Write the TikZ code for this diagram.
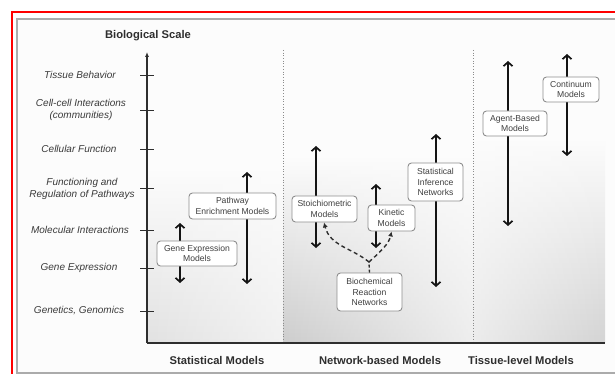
\documentclass[tikz,border=0pt]{standalone}
\usepackage{fontspec}
\setmainfont{Liberation Sans}
\usetikzlibrary{arrows.meta,fadings}
\definecolor{axisgray}{HTML}{2E2E2E}
\definecolor{labgray}{HTML}{3A3A3A}
\definecolor{boxgray}{HTML}{8E8E8E}
\definecolor{txtgray}{HTML}{404040}
\definecolor{framegray}{HTML}{ABABAB}
\definecolor{arrowblack}{HTML}{141414}
\definecolor{innerbg}{HTML}{FCFCFC}
\definecolor{shA}{HTML}{E2E2E2}
\definecolor{shB}{HTML}{CDCDCD}
\definecolor{shC}{HTML}{D4D4D4}
\pgfdeclareverticalshading{vshA}{100bp}{color(0bp)=(shA); color(25bp)=(shA); color(55bp)=(innerbg); color(100bp)=(innerbg)}
\pgfdeclareverticalshading{vshB}{100bp}{color(0bp)=(shB); color(25bp)=(shB); color(57bp)=(innerbg); color(100bp)=(innerbg)}
\pgfdeclareverticalshading{vshC}{100bp}{color(0bp)=(shC); color(25bp)=(shC); color(60bp)=(innerbg); color(100bp)=(innerbg)}
\begin{document}
\begin{tikzpicture}[x=1pt,y=-1pt,
  lab/.style={font=\fontsize{10}{11.5}\selectfont\itshape, text=labgray, align=center},
  ttl/.style={font=\fontsize{11.2}{13}\selectfont\bfseries, text=axisgray},
  mbox/.style={draw=boxgray, fill=white, rounded corners=3.5pt, line width=0.9pt,
     font=\fontsize{8.6}{10.5}\selectfont, text=txtgray, align=center, inner sep=0pt},
  dbl/.style={line width=1.7pt, draw=arrowblack,
     {Straight Barb[length=4pt,width=9pt,line width=1.7pt]}-{Straight Barb[length=4pt,width=9pt,line width=1.7pt]}},
  dsh/.style={line width=1.4pt, draw=axisgray, dash pattern=on 4pt off 3pt,
     -{Latex[length=5pt,width=5pt]}},
  tick/.style={line width=0.9pt, draw=axisgray}]
\useasboundingbox (0,0) rectangle (615,374);
% background and frames
\fill[white] (0,0) rectangle (615,374);
\fill[innerbg] (17,19) rectangle (615,373);
\draw[framegray, line width=1.5pt] (615,19) -- (17,19) -- (17,373) -- (615,373);
\draw[red, line width=2.4pt] (12,374) -- (12,12) -- (615,12);
% panels
\shade[shading=vshA] (148,50) rectangle (283,342);
\fill[innerbg, path fading=west, fill opacity=0.6] (148,50) rectangle (283,342);
\shade[shading=vshB] (283,50) rectangle (473,342);
\fill[innerbg, path fading=west, fill opacity=0.7] (283,50) rectangle (473,342);
\shade[shading=vshC] (473,50) rectangle (605,342);
\fill[innerbg, path fading=east, fill opacity=0.6] (473,50) rectangle (605,342);
\draw[dotted, black!45, line width=0.7pt] (283,50) -- (283,342);
\draw[dotted, black!45, line width=0.7pt] (473,50) -- (473,342);
% axes
\coordinate (org) at (147,343);
\coordinate (ytop) at (147,52);
\coordinate (xend) at (605,343);
\draw[axisgray, line width=1.3pt, -{Latex[length=5pt,width=4pt]}] (org) -- (ytop);
\draw[axisgray, line width=1.3pt] (org) -- (xend);
\node[ttl] (title) at (148,36) {Biological Scale};
% ticks and labels
\foreach \y/\n in {75/t1,110/t2,149/t3,188/t4,230/t5,268/t6,311/t7}{
  \coordinate (\n a) at (140,\y);
  \coordinate (\n b) at (154,\y);
  \draw[tick] (\n a) -- (\n b);
}
\node[lab] (l1) at (80,75) {Tissue Behavior};
\node[lab] (l2) at (81,110) {Cell-cell Interactions\\(communities)};
\node[lab] (l3) at (79,149) {Cellular Function};
\node[lab] (l4) at (82,189) {Functioning and\\Regulation of Pathways};
\node[lab] (l5) at (80,230) {Molecular Interactions};
\node[lab] (l6) at (79,268) {Gene Expression};
\node[lab] (l7) at (79,311) {Genetics, Genomics};
% bottom labels
\node[ttl] (s1) at (217,360) {Statistical Models};
\node[ttl] (s2) at (380,360) {Network-based Models};
\node[ttl] (s3) at (521,360) {Tissue-level Models};
% double arrows (coordinates)
\coordinate (ga1) at (180,223); \coordinate (ga2) at (180,283);
\coordinate (pa1) at (247,172); \coordinate (pa2) at (247,284);
\coordinate (sa1) at (316,146); \coordinate (sa2) at (316,248);
\coordinate (ka1) at (376,184); \coordinate (ka2) at (376,248);
\coordinate (ia1) at (436,134); \coordinate (ia2) at (436,287);
\coordinate (aa1) at (508,61);  \coordinate (aa2) at (508,226);
\coordinate (ca1) at (567,54);  \coordinate (ca2) at (567,156);
\foreach \a in {ga,pa,sa,ka,ia,aa,ca}{\draw[dbl] (\a1) -- (\a2);}
% boxes
\node[mbox, minimum width=80pt, minimum height=25pt] (gem) at (197,253.5) {Gene Expression\\Models};
\node[mbox, minimum width=87pt, minimum height=26pt] (pem) at (232.5,206) {Pathway\\Enrichment Models};
\node[mbox, minimum width=65pt, minimum height=26pt] (stm) at (324.5,209) {Stoichiometric\\Models};
\node[mbox, minimum width=47pt, minimum height=26pt] (kin) at (391.5,218) {Kinetic\\Models};
\node[mbox, minimum width=55pt, minimum height=38pt] (sin) at (435.5,182) {Statistical\\Inference\\Networks};
\node[mbox, minimum width=65pt, minimum height=38pt] (brn) at (369.5,292) {Biochemical\\Reaction\\Networks};
\node[mbox, minimum width=64pt, minimum height=25pt] (abm) at (515,123.5) {Agent-Based\\Models};
\node[mbox, minimum width=56pt, minimum height=25pt] (cm) at (571,89.5) {Continuum\\Models};
% dashed connectors
\coordinate (split) at (369,262);
\draw[line width=1.4pt, draw=axisgray, dash pattern=on 3pt off 2pt] (brn.north) -- (split);
\draw[dsh] (split) .. controls (352,248) and (330,246) .. ([xshift=-0.5pt]stm.south);
\draw[dsh] (split) .. controls (380,252) and (389,244) .. (kin.south);
\end{tikzpicture}
\end{document}
